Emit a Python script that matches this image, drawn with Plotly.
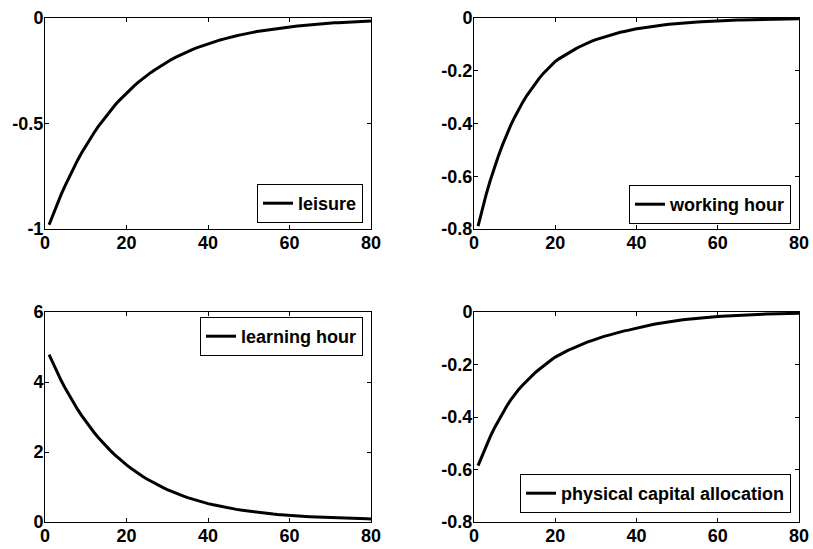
import plotly.graph_objects as go

periods = list(range(1, 81))

leisure = [-0.980, -0.929, -0.881, -0.835, -0.792, -0.750, -0.711, -0.674, -0.639, -0.606,
           -0.574, -0.545, -0.516, -0.490, -0.464, -0.440, -0.417, -0.395, -0.375, -0.355,
           -0.337, -0.319, -0.303, -0.287, -0.272, -0.258, -0.245, -0.232, -0.220, -0.208,
           -0.197, -0.187, -0.177, -0.168, -0.159, -0.151, -0.143, -0.136, -0.129, -0.122,
           -0.116, -0.110, -0.104, -0.099, -0.093, -0.089, -0.084, -0.080, -0.075, -0.072,
           -0.068, -0.064, -0.061, -0.058, -0.055, -0.052, -0.049, -0.047, -0.044, -0.042,
           -0.040, -0.038, -0.036, -0.034, -0.032, -0.030, -0.029, -0.027, -0.026, -0.025,
           -0.023, -0.022, -0.021, -0.020, -0.019, -0.018, -0.017, -0.016, -0.015, -0.014]

working_hour = [-0.789, -0.727, -0.669, -0.616, -0.568, -0.523, -0.482, -0.444, -0.408, -0.376,
                -0.346, -0.319, -0.294, -0.271, -0.249, -0.230, -0.211, -0.195, -0.179, -0.165,
                -0.154, -0.144, -0.134, -0.125, -0.117, -0.109, -0.101, -0.095, -0.088, -0.082,
                -0.077, -0.072, -0.067, -0.062, -0.058, -0.054, -0.051, -0.047, -0.044, -0.041,
                -0.0385, -0.0360, -0.0337, -0.0315, -0.0294, -0.0275, -0.0257, -0.0241, -0.0225, -0.0210,
                -0.0197, -0.0184, -0.0172, -0.0161, -0.0150, -0.0141, -0.0131, -0.0123, -0.0115, -0.0107,
                -0.0100, -0.0094, -0.0088, -0.0082, -0.0077, -0.0072, -0.0067, -0.0063, -0.0059, -0.0055,
                -0.0051, -0.0048, -0.0045, -0.0042, -0.0039, -0.0037, -0.0034, -0.0032, -0.0030, -0.0028]

learning_hour = [4.780, 4.517, 4.269, 4.034, 3.812, 3.602, 3.404, 3.217, 3.040, 2.873,
                 2.715, 2.565, 2.424, 2.291, 2.165, 2.046, 1.934, 1.827, 1.727, 1.632,
                 1.542, 1.457, 1.377, 1.302, 1.230, 1.162, 1.098, 1.038, 0.981, 0.927,
                 0.876, 0.828, 0.782, 0.739, 0.698, 0.660, 0.624, 0.589, 0.557, 0.526,
                 0.498, 0.472, 0.447, 0.424, 0.402, 0.381, 0.361, 0.342, 0.325, 0.308,
                 0.292, 0.277, 0.263, 0.250, 0.237, 0.226, 0.215, 0.204, 0.194, 0.185,
                 0.178, 0.171, 0.165, 0.159, 0.153, 0.147, 0.142, 0.137, 0.132, 0.127,
                 0.122, 0.118, 0.113, 0.109, 0.105, 0.101, 0.097, 0.094, 0.090, 0.087]

physical_capital = [-0.585, -0.546, -0.509, -0.475, -0.443, -0.414, -0.386, -0.360, -0.336, -0.313,
                    -0.295, -0.278, -0.262, -0.247, -0.232, -0.219, -0.206, -0.194, -0.183, -0.172,
                    -0.163, -0.155, -0.147, -0.140, -0.133, -0.127, -0.120, -0.114, -0.109, -0.103,
                    -0.098, -0.093, -0.089, -0.084, -0.080, -0.076, -0.072, -0.069, -0.065, -0.062,
                    -0.058, -0.0545, -0.0511, -0.0479, -0.0450, -0.0422, -0.0396, -0.0371, -0.0348, -0.0327,
                    -0.0306, -0.0287, -0.0269, -0.0253, -0.0237, -0.0222, -0.0209, -0.0196, -0.0184, -0.0172,
                    -0.0161, -0.0151, -0.0142, -0.0133, -0.0125, -0.0117, -0.0110, -0.0103, -0.0097, -0.0091,
                    -0.0085, -0.0080, -0.0075, -0.0070, -0.0066, -0.0062, -0.0058, -0.0054, -0.0051, -0.0048]

series_names = ["leisure", "working hour", "learning hour", "physical capital allocation"]

x_ticks = [0, 20, 40, 60, 80]
x_ticklabels = ["0", "20", "40", "60", "80"]
y1_ticks = [-1, -0.5, 0]
y1_ticklabels = ["-1", "-0.5", "0"]
y2_ticks = [-0.8, -0.6, -0.4, -0.2, 0]
y2_ticklabels = ["-0.8", "-0.6", "-0.4", "-0.2", "0"]
y3_ticks = [0, 2, 4, 6]
y3_ticklabels = ["0", "2", "4", "6"]
y4_ticks = [-0.8, -0.6, -0.4, -0.2, 0]
y4_ticklabels = ["-0.8", "-0.6", "-0.4", "-0.2", "0"]

W, H = 813, 549
font = dict(family="Liberation Sans, Arial, sans-serif", size=18, color="black", weight="bold")

# panel pixel boxes (left, right, top, bottom)
panels = [(45, 371, 18, 229), (474, 799, 18, 229), (45, 371, 312, 522), (474, 799, 312, 522)]
ydata = [leisure, working_hour, learning_hour, physical_capital]
yranges = [[-1, 0], [-0.8, 0], [0, 6], [-0.8, 0]]
yticks = [(y1_ticks, y1_ticklabels), (y2_ticks, y2_ticklabels), (y3_ticks, y3_ticklabels), (y4_ticks, y4_ticklabels)]
# legend anchor pixel (right, y, yanchor)
legend_pos = [(363, 223, "bottom"), (791, 224, "bottom"), (363, 317, "top"), (791, 513, "bottom")]

fig = go.Figure()
layout = dict(
    width=W, height=H,
    margin=dict(l=0, r=0, t=0, b=0, autoexpand=False),
    paper_bgcolor="white", plot_bgcolor="white",
    font=font,
    showlegend=True,
)

for i in range(4):
    sfx = "" if i == 0 else str(i + 1)
    lname = "legend" + sfx
    fig.add_trace(go.Scatter(
        x=periods, y=ydata[i], mode="lines", name=series_names[i],
        line=dict(color="black", width=3),
        xaxis="x" + sfx, yaxis="y" + sfx, legend=lname,
    ))
    l, r, t, b = panels[i]
    axcommon = dict(
        showline=True, linecolor="black", linewidth=1, mirror="ticks",
        ticks="inside", ticklen=4, tickcolor="black", tickwidth=1,
        showgrid=False, zeroline=False, tickfont=font, automargin=False,
        ticklabelstandoff=-3,
    )
    layout["xaxis" + sfx] = dict(
        domain=[l / W, r / W], range=[0, 80], anchor="y" + sfx,
        tickvals=x_ticks, ticktext=x_ticklabels, **axcommon,
    )
    layout["yaxis" + sfx] = dict(
        domain=[1 - b / H, 1 - t / H], range=yranges[i], anchor="x" + sfx,
        tickvals=yticks[i][0], ticktext=yticks[i][1], **axcommon,
    )
    lx, ly, ya = legend_pos[i]
    layout[lname] = dict(
        x=lx / W, y=1 - ly / H, xanchor="right", yanchor=ya,
        xref="paper", yref="paper",
        bordercolor="black", borderwidth=1, bgcolor="white",
        font=font, itemwidth=30, tracegroupgap=0,
    )

fig.update_layout(**layout)
fig.write_html(
    "out.html",
    config={"displayModeBar": False},
    post_script="document.body.style.margin='0px';document.body.style.overflow='hidden';",
)
